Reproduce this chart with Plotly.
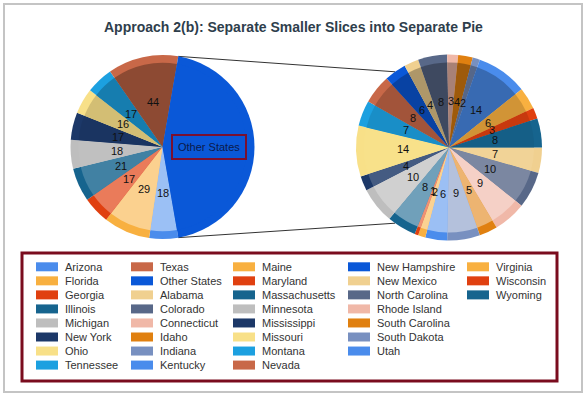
import math
import plotly.graph_objects as go

# ---------------- data ----------------
title_text = "Approach 2(b): Separate Smaller Slices into Separate Pie"

main_labels = ["Arizona", "Florida", "Georgia", "Illinois", "Michigan", "New York",
               "Ohio", "Tennessee", "Texas", "Other States"]
main_values = [18, 29, 17, 21, 18, 17, 16, 17, 44, 158]

other_labels = ["Alabama", "Colorado", "Connecticut", "Idaho", "Indiana", "Kentucky",
                "Maine", "Maryland", "Massachusetts", "Minnesota", "Mississippi",
                "Missouri", "Montana", "Nevada", "New Hampshire", "New Mexico",
                "North Carolina", "Rhode Island", "South Carolina", "South Dakota",
                "Utah", "Virginia", "Wisconsin", "Wyoming"]
other_values = [7, 10, 9, 5, 9, 6, 2, 1, 8, 10, 4, 14, 7, 8, 6, 4, 8, 3, 4, 2, 14, 6, 3, 8]

palette = ["#4a8cec", "#f8b040", "#e04010", "#16648e", "#bebebe", "#1c3868", "#f8e088",
           "#1ca0e0", "#c86848", "#0a58d8", "#f0d090", "#586888", "#f0b8a8", "#e08010",
           "#7890c0"]

# legend layout: number of entries in each column (column-major order)
legend_col_sizes = [8, 8, 8, 7, 3]

# ---------------- layout geometry ----------------
W, H = 587, 397
main_c, main_R = (162.5, 147.0), 92.0
sub_c, sub_R = (449.0, 147.5), 93.0
RING = 0.915           # inner (shaded) disc radius fraction
LABEL_R = 0.5          # label radius fraction
FONT = "Liberation Sans, Arial, sans-serif"

all_labels = main_labels + other_labels
colors = {lab: palette[i % len(palette)] for i, lab in enumerate(all_labels)}


def px(x):
    return x / W


def py(y):
    return 1 - y / H


def domain(c, R):
    return dict(x=[px(c[0] - R), px(c[0] + R)], y=[py(c[1] + R), py(c[1] - R)])


def hex2rgb(h):
    h = h.lstrip("#")
    return [int(h[i:i + 2], 16) for i in (0, 2, 4)]


def shade(h, v):
    r = hex2rgb(h)
    if v >= 0:
        k = 0.30 * v
        r = [c * (1 - k) for c in r]
    else:
        k = 0.45 * (-v)
        r = [c + (255 - c) * k for c in r]
    return "rgb(%d,%d,%d)" % tuple(round(c) for c in r)


def mid_angles(values, rotation):
    tot = sum(values)
    out, cum = [], 0
    for v in values:
        out.append(rotation + 360.0 * (cum + v / 2) / tot)
        cum += v
    return out


main_rot = 90 + 180.0 * main_values[-1] / sum(main_values)
sub_rot = 90.0

fig = go.Figure()


def add_pie(labels, values, c, R, rot):
    mids = mid_angles(values, rot)
    base = [colors[l] for l in labels]
    inner = [shade(colors[l], math.cos(math.radians(a))) for l, a in zip(labels, mids)]
    fig.add_trace(go.Pie(labels=labels, values=values, sort=False, direction="clockwise",
                         rotation=rot, domain=domain(c, R), textinfo="none",
                         marker=dict(colors=base, line=dict(width=0)), showlegend=False))
    fig.add_trace(go.Pie(labels=labels, values=values, sort=False, direction="clockwise",
                         rotation=rot, domain=domain(c, R * RING), textinfo="none",
                         marker=dict(colors=inner, line=dict(width=0)), showlegend=False,
                         hoverinfo="label+value"))
    return mids


main_mids = add_pie(main_labels, main_values, main_c, main_R, main_rot)
sub_mids = add_pie(other_labels, other_values, sub_c, sub_R, sub_rot)

annotations = []


def pt(c, R, ang, f):
    a = math.radians(ang)
    return c[0] + f * R * math.sin(a), c[1] - f * R * math.cos(a)


def label(x, y, text, **kw):
    d = dict(x=px(x), y=py(y), xref="paper", yref="paper", text=text, showarrow=False,
             xanchor="center", yanchor="middle",
             font=dict(family=FONT, size=11, color="#111111"))
    d.update(kw)
    return d


for lab, val, ang in zip(main_labels, main_values, main_mids):
    x, y = pt(main_c, main_R, ang, LABEL_R)
    if lab == "Other States":
        annotations.append(label(x, y, lab, font=dict(family=FONT, size=11, color="#0c1a4a"),
                                 bordercolor="#7a1030", borderwidth=2, borderpad=5))
    else:
        annotations.append(label(x, y, str(val)))

for lab, val, ang in zip(other_labels, other_values, sub_mids):
    x, y = pt(sub_c, sub_R, ang, LABEL_R)
    annotations.append(label(x, y, str(val)))

# title
annotations.append(label(W / 2, 27, "<b>%s</b>" % title_text,
                         font=dict(family="Liberation Sans Narrow, Arial Narrow, Liberation Sans, Arial",
                                   size=14, color="#2e3e4c")))

shapes = []
# outer frame
shapes.append(dict(type="rect", xref="paper", yref="paper", x0=px(4), x1=px(582), y0=py(392), y1=py(4),
                   line=dict(color="#c4c4c4", width=2), layer="below"))

# connector lines from "Other States" edges to the detail pie
tot_main = sum(main_values)
os_start = main_rot + 360.0 * sum(main_values[:-1]) / tot_main
os_end = main_rot + 360.0
for a_main, a_sub in ((os_start, 324.5), (os_end, 215.5)):
    x0, y0 = pt(main_c, main_R, a_main, 1.0)
    x1, y1 = pt(sub_c, sub_R, a_sub, 1.0)
    shapes.append(dict(type="line", xref="paper", yref="paper", x0=px(x0), y0=py(y0),
                       x1=px(x1), y1=py(y1), line=dict(color="#333333", width=1), layer="below"))

# legend box
shapes.append(dict(type="rect", xref="paper", yref="paper", x0=px(22), x1=px(557), y0=py(381), y1=py(253),
                   line=dict(color="#7a0c1e", width=3), fillcolor="white"))

# legend entries (column-major)
col_x = [36, 131, 233, 348, 467]
row_y0, row_dy = 266.8, 14.04
positions = []
for col, n in enumerate(legend_col_sizes):
    for row in range(n):
        positions.append((col, row))
for lab, (col, row) in zip(all_labels, positions):
    cx = col_x[col]
    cy = row_y0 + row * row_dy
    shapes.append(dict(type="rect", xref="paper", yref="paper", x0=px(cx), x1=px(cx + 22),
                       y0=py(cy + 4.5), y1=py(cy - 4.5), line=dict(width=0), fillcolor=colors[lab]))
    annotations.append(label(cx + 27, cy, lab, xanchor="left",
                             font=dict(family=FONT, size=11, color="#333333")))

fig.update_layout(width=W, height=H, margin=dict(l=0, r=0, t=0, b=0),
                  paper_bgcolor="white", plot_bgcolor="white",
                  annotations=annotations, shapes=shapes, showlegend=False)

fig.write_html("out.html", config={"displayModeBar": False},
               post_script="document.body.style.margin='0';")
